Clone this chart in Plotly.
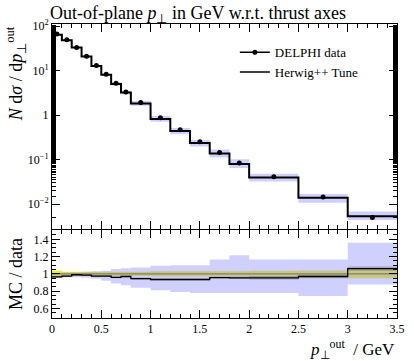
import plotly.graph_objects as go

# ---------------- data ----------------
bin_edges = [0, 0.1, 0.2, 0.3, 0.4, 0.5, 0.6, 0.7, 0.8, 1.0, 1.2, 1.4, 1.6, 1.8, 2.0, 2.5, 3.0, 3.5]
data_vals = [66, 49, 33, 21, 13, 8.2, 5.2, 3.3, 1.91, 0.87, 0.465, 0.25, 0.143, 0.083, 0.041, 0.0143, 0.0050]
data_err_rel = [0.035, 0.025, 0.025, 0.025, 0.025, 0.025, 0.025, 0.025, 0.025, 0.03, 0.03, 0.03, 0.03, 0.03, 0.035, 0.04, 0.05]
mc_ratio = [0.965, 0.975, 0.99, 0.985, 0.975, 0.975, 0.96, 0.97, 0.945, 0.935, 0.935, 0.935, 0.958, 0.955, 0.955, 0.97, 1.06]
mc_band_lo = [0.955, 0.96, 0.96, 0.955, 0.945, 0.92, 0.89, 0.87, 0.84, 0.81, 0.79, 0.78, 0.78, 0.78, 0.78, 0.745, 0.878]
mc_band_hi = [1.01, 1.015, 1.02, 1.025, 1.03, 1.035, 1.058, 1.065, 1.074, 1.095, 1.10, 1.10, 1.166, 1.216, 1.166, 1.166, 1.36]
mc_stat_rel = [0.01, 0.01, 0.01, 0.01, 0.01, 0.01, 0.01, 0.01, 0.012, 0.012, 0.012, 0.012, 0.012, 0.015, 0.02, 0.02, 0.025]

main_ytickvals = [1e-2, 1e-1, 1, 10, 100]
main_yticktext = ["10<sup>−2</sup>", "10<sup>−1</sup>", "1", "10<sup>1</sup>", "10<sup>2</sup>"]
ratio_ytickvals = [0.6, 0.8, 1.0, 1.2, 1.4]
ratio_yticktext = ["0.6", "0.8", "1", "1.2", "1.4"]
xtickvals = [0, 0.5, 1, 1.5, 2, 2.5, 3, 3.5]
xticktext = ["0", "0.5", "1", "1.5", "2", "2.5", "3", "3.5"]

# ---------------- derived ----------------
centers = [(a + b) / 2 for a, b in zip(bin_edges[:-1], bin_edges[1:])]
mc_vals = [d * r for d, r in zip(data_vals, mc_ratio)]


def step(v):
    return list(v) + [v[-1]]


FONT = "Liberation Serif"
BLUE_FILL = "rgba(150,150,255,0.45)"
YELLOW = "rgb(238,238,30)"
GRAY_FILL = "rgba(90,90,90,0.35)"

fig = go.Figure()

# main panel: MC band
fig.add_trace(go.Scatter(x=bin_edges, y=step([d * l for d, l in zip(data_vals, mc_band_lo)]),
                         line_shape="hv", mode="lines", line=dict(width=0), showlegend=False,
                         hoverinfo="skip", xaxis="x", yaxis="y"))
fig.add_trace(go.Scatter(x=bin_edges, y=step([d * h for d, h in zip(data_vals, mc_band_hi)]),
                         line_shape="hv", mode="lines", line=dict(width=0), fill="tonexty",
                         fillcolor=BLUE_FILL, showlegend=False, hoverinfo="skip", xaxis="x", yaxis="y"))
# MC line
fig.add_trace(go.Scatter(x=bin_edges, y=step(mc_vals), line_shape="hv", mode="lines",
                         line=dict(color="black", width=2), showlegend=False, xaxis="x", yaxis="y"))
# data points
fig.add_trace(go.Scatter(x=centers, y=data_vals, mode="markers",
                         marker=dict(color="black", size=5),
                         error_y=dict(type="data", array=[d * e for d, e in zip(data_vals, data_err_rel)],
                                      color="black", thickness=1, width=0),
                         showlegend=False, xaxis="x", yaxis="y"))
# legend entries
fig.add_trace(go.Scatter(x=[None], y=[None], mode="lines+markers", name="DELPHI data",
                         line=dict(color="black", width=1.5), marker=dict(color="black", size=5),
                         xaxis="x", yaxis="y"))
fig.add_trace(go.Scatter(x=[None], y=[None], mode="lines", name="Herwig++ Tune",
                         line=dict(color="black", width=1.5), xaxis="x", yaxis="y"))

# ratio panel: data yellow band
fig.add_trace(go.Scatter(x=bin_edges, y=step([1 - e for e in data_err_rel]), line_shape="hv", mode="lines",
                         line=dict(width=0), showlegend=False, hoverinfo="skip", xaxis="x2", yaxis="y2"))
fig.add_trace(go.Scatter(x=bin_edges, y=step([1 + e for e in data_err_rel]), line_shape="hv", mode="lines",
                         line=dict(width=0), fill="tonexty", fillcolor=YELLOW, showlegend=False,
                         hoverinfo="skip", xaxis="x2", yaxis="y2"))
# MC envelope band
fig.add_trace(go.Scatter(x=bin_edges, y=step(mc_band_lo), line_shape="hv", mode="lines",
                         line=dict(width=0), showlegend=False, hoverinfo="skip", xaxis="x2", yaxis="y2"))
fig.add_trace(go.Scatter(x=bin_edges, y=step(mc_band_hi), line_shape="hv", mode="lines",
                         line=dict(width=0), fill="tonexty", fillcolor=BLUE_FILL, showlegend=False,
                         hoverinfo="skip", xaxis="x2", yaxis="y2"))
# MC stat band
fig.add_trace(go.Scatter(x=bin_edges, y=step([r - s for r, s in zip(mc_ratio, mc_stat_rel)]), line_shape="hv",
                         mode="lines", line=dict(width=0), showlegend=False, hoverinfo="skip",
                         xaxis="x2", yaxis="y2"))
fig.add_trace(go.Scatter(x=bin_edges, y=step([r + s for r, s in zip(mc_ratio, mc_stat_rel)]), line_shape="hv",
                         mode="lines", line=dict(width=0), fill="tonexty", fillcolor=GRAY_FILL,
                         showlegend=False, hoverinfo="skip", xaxis="x2", yaxis="y2"))
# data reference line (data/data)
fig.add_trace(go.Scatter(x=bin_edges, y=step([d / d for d in data_vals]), line_shape="hv", mode="lines",
                         line=dict(color="rgb(110,110,110)", width=1), showlegend=False, xaxis="x2", yaxis="y2"))
# MC ratio line
fig.add_trace(go.Scatter(x=bin_edges, y=step(mc_ratio), line_shape="hv", mode="lines",
                         line=dict(color="black", width=1.3), showlegend=False, xaxis="x2", yaxis="y2"))

axis_common = dict(showline=True, linecolor="black", linewidth=1, mirror="ticks", ticks="inside",
                   tickcolor="black", showgrid=False, zeroline=False,
                   tickfont=dict(family=FONT, size=12, color="black"))

fig.update_layout(
    width=414, height=361,
    margin=dict(l=52, r=9, t=24, b=43),
    paper_bgcolor="white", plot_bgcolor="white",
    font=dict(family=FONT, color="black"),
    title=dict(text="Out-of-plane <i>p</i><sub>⊥</sub> in GeV w.r.t. thrust axes",
               x=50 / 414, xanchor="left", xref="container", y=0.965, yanchor="middle", yref="container",
               font=dict(family=FONT, size=18, color="black")),
    showlegend=True,
    legend=dict(x=0.53, y=0.955, xanchor="left", yanchor="top", bgcolor="rgba(0,0,0,0)",
                font=dict(family=FONT, size=13, color="black"), tracegroupgap=0,
                traceorder="normal", itemwidth=30),
    xaxis=dict(domain=[0, 1], range=[0, 3.5], anchor="y", tickvals=xtickvals, ticktext=xticktext,
               showticklabels=False, ticklen=8,
               minor=dict(ticks="inside", dtick=0.1, ticklen=4, tickcolor="black", showgrid=False),
               **axis_common),
    yaxis=dict(domain=[0.303, 1], type="log", range=[-2.56, 2.045], anchor="x",
               tickvals=main_ytickvals, ticktext=main_yticktext, ticklen=8,
               minor=dict(ticks="inside", ticklen=4, tickcolor="black", showgrid=False),
               **axis_common),
    xaxis2=dict(domain=[0, 1], range=[0, 3.5], anchor="y2", tickvals=xtickvals, ticktext=xticktext,
                ticklen=8,
                minor=dict(ticks="inside", dtick=0.1, ticklen=4, tickcolor="black", showgrid=False),
                **axis_common),
    yaxis2=dict(domain=[0, 0.3], range=[0.49, 1.51], anchor="x2", tickvals=ratio_ytickvals,
                ticktext=ratio_yticktext, ticklen=8,
                minor=dict(ticks="inside", dtick=0.05, ticklen=4, tickcolor="black", showgrid=False),
                title=dict(text="MC / data", font=dict(family=FONT, size=18, color="black"), standoff=6),
                **axis_common),
    annotations=[
        dict(text="<i>N</i> d<i>σ</i> / d<i>p</i><sub>⊥</sub><sup>out</sup>", xref="paper", yref="paper",
             x=-0.105, y=1.0, xanchor="center", yanchor="top", textangle=-90, showarrow=False,
             font=dict(family=FONT, size=18, color="black")),
        dict(text="<i>p</i><sub>⊥</sub><sup>out</sup>  / GeV", xref="paper", yref="paper",
             x=1.0, y=-0.058, xanchor="right", yanchor="top", showarrow=False,
             font=dict(family=FONT, size=17, color="black")),
    ],
)

fig.write_html("out.html")
